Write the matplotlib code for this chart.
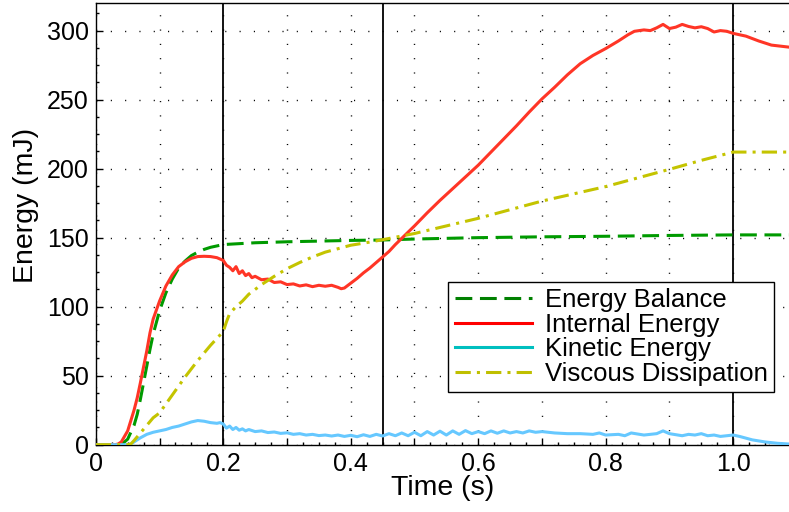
import matplotlib
matplotlib.use("Agg")
import matplotlib.pyplot as plt
from matplotlib.lines import Line2D
from matplotlib.ticker import MultipleLocator, FuncFormatter

plt.rcParams['font.family'] = ['Liberation Sans', 'DejaVu Sans']

# Energy balance
t_bal = [0, 0.03, 0.04, 0.05, 0.06, 0.065, 0.07, 0.08, 0.085, 0.09, 0.10, 0.11, 0.12,
         0.13, 0.14, 0.15, 0.16, 0.17, 0.18, 0.20, 0.25, 0.30, 0.35, 0.40, 0.45, 0.50,
         0.60, 0.70, 0.80, 0.90, 1.00, 1.088]
e_bal = [0, 0, 0, 4, 14, 22, 33, 57, 69, 80, 97, 110, 120,
         128, 133, 137, 139.5, 141.5, 143, 145, 146.3, 147, 147.5, 148, 148.3, 149,
         150, 150.6, 151, 151.6, 152, 152]

# Internal energy
t_int = [0, 0.03, 0.035, 0.04, 0.05, 0.06, 0.065, 0.07, 0.08, 0.085, 0.09, 0.10, 0.11,
         0.12, 0.13, 0.14, 0.15, 0.16, 0.17, 0.18, 0.19, 0.20, 0.205, 0.21, 0.215, 0.22,
         0.225, 0.23, 0.235, 0.24, 0.245, 0.25, 0.26, 0.27, 0.28, 0.29, 0.30, 0.31, 0.32,
         0.33, 0.34, 0.35, 0.36, 0.37, 0.38, 0.385, 0.39, 0.40, 0.41, 0.42, 0.43, 0.44,
         0.45, 0.46, 0.47, 0.48, 0.49, 0.50, 0.52, 0.54, 0.56, 0.58, 0.60, 0.62, 0.64,
         0.66, 0.68, 0.70, 0.72, 0.74, 0.76, 0.78, 0.80, 0.82, 0.835, 0.845, 0.86, 0.87,
         0.88, 0.89, 0.90, 0.91, 0.92, 0.93, 0.94, 0.95, 0.96, 0.97, 0.98, 0.99, 1.00,
         1.02, 1.04, 1.06, 1.088]
e_int = [0, 0, 0.5, 2, 10, 25, 34, 45, 68, 81, 91, 104, 115,
         123, 129, 132.5, 135, 136.3, 136.5, 136.3, 135.5, 133.5, 130, 128.5, 126, 129,
         124, 126, 122.5, 124, 121, 122, 119.5, 120, 117.5, 118, 116, 116.5, 115,
         115.8, 114.5, 115.5, 114.8, 115.5, 114, 113, 113.5, 117, 120.5, 124.5, 128, 132,
         136, 140, 145, 149.5, 154, 158.5, 168, 177, 185.5, 194, 202.5, 212, 221.5,
         231, 241, 250.5, 259, 268, 276, 282, 287, 292.5, 297, 299.5, 300.5, 300,
         302, 304.5, 301.5, 302.5, 304.5, 303, 302, 302.8, 301.5, 299, 300, 299.5, 298,
         296, 292.5, 289.5, 288]

# Kinetic energy
t_kin = [0, 0.05, 0.055, 0.06, 0.07, 0.08, 0.09, 0.10, 0.11, 0.12, 0.13, 0.14, 0.15,
         0.16, 0.17, 0.18, 0.19, 0.195, 0.20, 0.205, 0.21, 0.215, 0.22, 0.225, 0.23,
         0.235, 0.24, 0.25, 0.26, 0.27, 0.28, 0.29, 0.30, 0.31, 0.32, 0.33, 0.34, 0.35,
         0.36, 0.37, 0.38, 0.39, 0.40, 0.41, 0.42, 0.43, 0.44, 0.45, 0.46, 0.47, 0.48,
         0.49, 0.50, 0.51, 0.52, 0.53, 0.54, 0.55, 0.56, 0.57, 0.58, 0.59, 0.60, 0.61,
         0.62, 0.63, 0.64, 0.65, 0.66, 0.67, 0.68, 0.69, 0.70, 0.72, 0.74, 0.76, 0.78,
         0.79, 0.80, 0.82, 0.83, 0.84, 0.86, 0.88, 0.89, 0.90, 0.92, 0.93, 0.94, 0.95,
         0.96, 0.97, 0.98, 1.00, 1.01, 1.03, 1.05, 1.07, 1.088]
e_kin = [0, 0, 0.5, 2, 5, 7.5, 9, 10, 11, 12.5, 13.5, 15, 16.5,
         17.5, 17, 16, 15.5, 16, 15, 12, 13.5, 11, 12.5, 10.5, 11.5,
         10, 11, 9.5, 10, 8.8, 9.2, 8.2, 8.6, 7.5, 8, 7, 7.5, 6.6,
         7, 6.3, 7, 6, 6.8, 5.8, 7.2, 6, 7.5, 6.3, 8, 6.5, 8.5,
         6.5, 9, 6.5, 9.5, 7, 9.8, 7, 10, 7.5, 10.2, 8, 9.5, 8,
         10, 8.3, 10, 8.5, 9.5, 8.5, 10, 9, 9.5, 8.5, 8, 8, 7.5,
         8.5, 7, 7.5, 6.5, 8.5, 7, 8, 10, 8, 6.5, 7.5, 7, 8,
         6.5, 7, 6, 7, 6, 3.5, 2, 1, 0.5]

# Viscous dissipation
t_visc = [0, 0.05, 0.055, 0.06, 0.07, 0.08, 0.09, 0.10, 0.12, 0.14, 0.16, 0.18, 0.20,
          0.205, 0.21, 0.22, 0.23, 0.24, 0.26, 0.28, 0.30, 0.32, 0.34, 0.36, 0.38, 0.40,
          0.42, 0.45, 0.50, 0.60, 0.70, 0.80, 0.90, 0.95, 1.00, 1.088]
e_visc = [0, 0, 0.5, 3, 8.5, 14, 19.5, 23, 36, 49, 61, 72, 82,
          89, 95, 100, 104, 109, 116, 122, 127.5, 132, 136, 139.5, 142, 144.5,
          146, 148.5, 153, 164, 176.5, 187, 199.5, 206, 212, 212]

phase_marks = [0.2, 0.45, 1.0]
series_names = ["Energy Balance", "Internal Energy", "Kinetic Energy", "Viscous Dissipation"]
x_tick_labels = ["0", "0.2", "0.4", "0.6", "0.8", "1.0"]

fig = plt.figure(figsize=(7.89, 5.12), dpi=100)
ax = fig.add_axes([95.8 / 789, 1 - 444.7 / 512, 1 - 95.8 / 789, (444.7 - 3) / 512])

for xm in phase_marks:
    ax.axvline(xm, color='black', lw=1.3, zorder=1.5)

ax.plot(t_bal, e_bal, color='#009a00', lw=2.2, linestyle=(0, (5.5, 2.5)), zorder=3)
ax.plot(t_int, e_int, color='#ff3526', lw=2.2, zorder=3)
ax.plot(t_kin, e_kin, color='#66c8ff', lw=2.2, zorder=3)
ax.plot(t_visc, e_visc, color='#c4c400', lw=2.2, linestyle=(0, (5, 2, 1, 2)), zorder=3)

ax.set_xlim(0, 1.0876)
ax.set_ylim(0, 320)

ax.xaxis.set_major_locator(MultipleLocator(0.1))
ax.xaxis.set_minor_locator(MultipleLocator(0.025))
ax.yaxis.set_major_locator(MultipleLocator(50))
ax.yaxis.set_minor_locator(MultipleLocator(12.5))


def xfmt(v, pos):
    k = int(round(v * 10))
    if k % 2:
        return ""
    return x_tick_labels[k // 2] if k // 2 < len(x_tick_labels) else ""


ax.xaxis.set_major_formatter(FuncFormatter(xfmt))
ax.tick_params(which='both', direction='in', top=False, right=False, labelsize=18,
               color='black', width=1)
ax.tick_params(which='major', length=5, pad=5)
ax.tick_params(which='minor', length=2.5)

ax.grid(True, which='major', color='black', linestyle=(0, (0.8, 9.5)), lw=1.0)
ax.set_axisbelow(True)

for s in ['left', 'bottom', 'top']:
    ax.spines[s].set_linewidth(1.0)
ax.spines['right'].set_visible(False)

ax.set_xlabel("Time (s)", fontsize=20.5)
ax.set_ylabel("Energy (mJ)", fontsize=20.5)
ax.xaxis.set_label_coords(0.5, -0.0677)
ax.yaxis.set_label_coords(-0.082, 0.5427)

handles = [
    Line2D([], [], color='#008000', lw=2.2, linestyle=(0, (5.5, 2.5))),
    Line2D([], [], color='#ff0000', lw=2.2),
    Line2D([], [], color='#00bfbf', lw=2.2),
    Line2D([], [], color='#bfbf00', lw=2.2, linestyle=(0, (5, 2, 1, 2))),
]
leg = ax.legend(handles, series_names, loc='upper right',
                bbox_to_anchor=(774 / 789, 1 - 282 / 512), bbox_transform=fig.transFigure,
                fontsize=18.5, frameon=True, fancybox=False, framealpha=1,
                edgecolor='black', handlelength=3.0, handletextpad=0.5,
                labelspacing=0.02, borderpad=0.25, borderaxespad=0)
leg.get_frame().set_linewidth(1.0)

fig.savefig("out.png", dpi=100)
